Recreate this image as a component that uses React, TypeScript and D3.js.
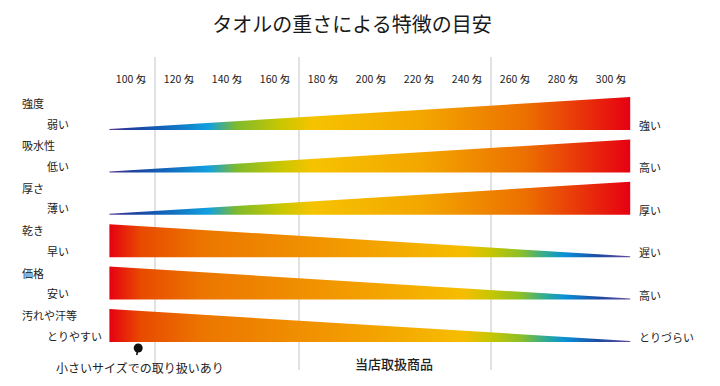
import React, { useEffect, useRef } from 'react';
import * as d3 from 'd3';

const title = 'タオルの重さによる特徴の目安';
const weightTicks = [100, 120, 140, 160, 180, 200, 220, 240, 260, 280, 300];
const guideWeights = [110, 170, 250];
const weightExtent = [91, 308];

const categories = ['強度', '吸水性', '厚さ', '乾き', '価格', '汚れや汗等'];
const lowLabels = ['弱い', '低い', '薄い', '早い', '安い', 'とりやすい'];
const highLabels = ['強い', '高い', '厚い', '遅い', '高い', 'とりづらい'];
const directions = ['up', 'up', 'up', 'down', 'down', 'down'];

const smallSizeWeight = 103;
const smallSizeNote = '小さいサイズでの取り扱いあり';
const shopNote = '当店取扱商品';

// colour stops, measured from the thin end of the wedge
const upStops = [
  [0, '#5a3894'], [0.04, '#1f3f9c'], [0.1, '#1262b8'], [0.19, '#12a0e0'],
  [0.245, '#7fba2c'], [0.33, '#c9c700'], [0.39, '#f6c300'], [0.6, '#f3a600'],
  [0.8, '#ec6f00'], [1, '#e60012'],
];
const downStops = [
  [0, '#6a4a9c'], [0.06, '#1d4aa0'], [0.125, '#0a90d8'], [0.16, '#2aaa9a'],
  [0.21, '#8cbf28'], [0.27, '#c8c600'], [0.32, '#f6bd00'], [0.55, '#f29a00'],
  [0.82, '#ec7600'], [0.94, '#e84a00'], [1, '#e60012'],
];

const W = 720;
const H = 386;
const font = '"Noto Sans CJK JP", "Noto Sans", sans-serif';

const App = () => {
  const svgRef = useRef(null);

  useEffect(() => {
    const svg = d3.select(svgRef.current);
    svg.selectAll('*').remove();

    const x = d3.scaleLinear().domain([100, 300]).range([131, 611]);
    const rowY = d3.scaleLinear().domain([0, categories.length - 1]).range([130, 342]);
    const thick = d3.scaleLinear().domain(weightExtent).range([1, 33]);

    const defs = svg.append('defs');
    const addGrad = (id, stops, reverse) => {
      const g = defs.append('linearGradient')
        .attr('id', id)
        .attr('gradientUnits', 'userSpaceOnUse')
        .attr('x1', x(weightExtent[0])).attr('x2', x(weightExtent[1]))
        .attr('y1', 0).attr('y2', 0);
      const s = reverse ? stops.map(([o, c]) => [1 - o, c]).reverse() : stops;
      s.forEach(([o, c]) => g.append('stop').attr('offset', o).attr('stop-color', c));
    };
    addGrad('gradUp', upStops, false);
    addGrad('gradDown', downStops, true);

    svg.append('text')
      .attr('x', 352).attr('y', 23)
      .attr('text-anchor', 'middle').attr('dominant-baseline', 'central')
      .attr('font-size', 20).attr('fill', '#1a1a1a')
      .text(title);

    // guide lines
    svg.selectAll('.guide')
      .data(guideWeights)
      .enter().append('line')
      .attr('x1', d => x(d)).attr('x2', d => x(d))
      .attr('y1', 57).attr('y2', 370)
      .attr('stroke', '#c4c4c4').attr('stroke-width', 1);

    // weight labels
    svg.selectAll('.tick')
      .data(weightTicks)
      .enter().append('text')
      .attr('x', d => x(d)).attr('y', 78)
      .attr('text-anchor', 'middle').attr('dominant-baseline', 'central')
      .attr('font-size', 10.5).attr('fill', '#222')
      .text(d => `${d} 匁`);

    // wedges
    const area = d3.area()
      .x(d => x(d.w))
      .y0(d => d.base)
      .y1(d => d.base - d.t);

    categories.forEach((c, i) => {
      const base = rowY(i);
      const up = directions[i] === 'up';
      const pts = weightExtent.map(w => ({
        w,
        base,
        t: up ? thick(w) : thick(weightExtent[0] + weightExtent[1] - w),
      }));
      svg.append('path')
        .attr('d', area(pts))
        .attr('fill', `url(#${up ? 'gradUp' : 'gradDown'})`);

      svg.append('text')
        .attr('x', 22).attr('y', base - 27)
        .attr('dominant-baseline', 'central')
        .attr('font-size', 11).attr('fill', '#222')
        .text(c);
      svg.append('text')
        .attr('x', 47).attr('y', base - 6.5)
        .attr('dominant-baseline', 'central')
        .attr('font-size', 11).attr('fill', '#222')
        .text(lowLabels[i]);
      svg.append('text')
        .attr('x', 639).attr('y', base - 5)
        .attr('dominant-baseline', 'central')
        .attr('font-size', 11).attr('fill', '#222')
        .text(highLabels[i]);
    });

    // small-size marker
    const px = x(smallSizeWeight);
    svg.append('line')
      .attr('x1', px).attr('y1', 348).attr('x2', px - 1.5).attr('y2', 355)
      .attr('stroke', '#111').attr('stroke-width', 1.6);
    svg.append('circle')
      .attr('cx', px).attr('cy', 348).attr('r', 4.5).attr('fill', '#111');

    svg.append('text')
      .attr('x', 56).attr('y', 367)
      .attr('dominant-baseline', 'central')
      .attr('font-size', 12).attr('fill', '#222')
      .text(smallSizeNote);
    svg.append('text')
      .attr('x', 394).attr('y', 363)
      .attr('text-anchor', 'middle').attr('dominant-baseline', 'central')
      .attr('font-size', 13).attr('font-weight', 500).attr('fill', '#222')
      .text(shopNote);
  }, []);

  return (
    <svg
      ref={svgRef}
      width={W}
      height={H}
      style={{ position: 'absolute', left: 0, top: 0, fontFamily: font, background: '#fff' }}
    />
  );
};

export default App;
